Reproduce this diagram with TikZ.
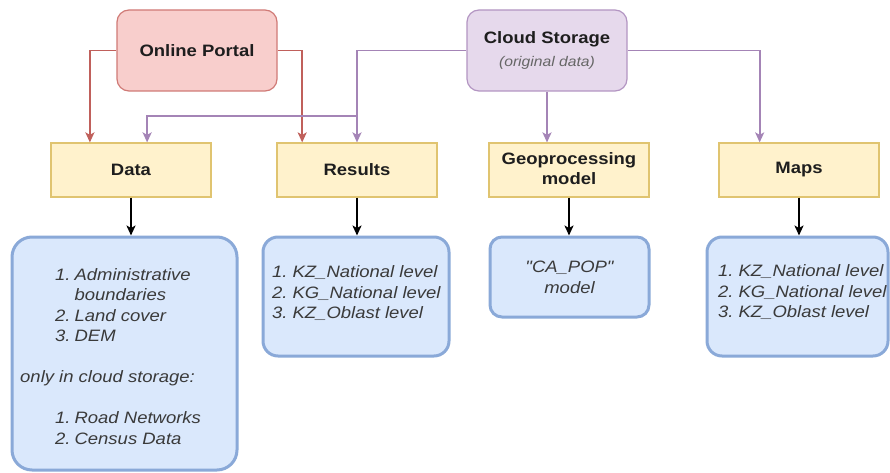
\documentclass[tikz,border=0pt]{standalone}
\usepackage{fontspec}
\usetikzlibrary{arrows.meta,calc}
\newfontfamily\lblfont[FakeStretch=1.12,Ligatures=TeXOff]{Liberation Sans}

\definecolor{portalfill}{HTML}{F8CECC}
\definecolor{portaledge}{HTML}{D07A76}
\definecolor{cloudfill}{HTML}{E6D9EC}
\definecolor{cloudedge}{HTML}{B395C2}
\definecolor{folderfill}{HTML}{FFF2CC}
\definecolor{folderedge}{HTML}{E0C470}
\definecolor{listfill}{HTML}{DAE8FC}
\definecolor{listedge}{HTML}{8AA9D8}
\definecolor{redline}{HTML}{C0605B}
\definecolor{purpleline}{HTML}{A484B6}
\definecolor{labelink}{HTML}{1E1E1E}
\definecolor{listink}{HTML}{3A3A3A}
\definecolor{noteink}{HTML}{666666}

\begin{document}
\begin{tikzpicture}[x=1pt,y=-1pt,
  box/.style={draw, line width=1.2pt, align=center, inner sep=0pt, text=labelink,
    font=\lblfont\bfseries\fontsize{16.5}{20}\selectfont},
  portalbox/.style={box, fill=portalfill, draw=portaledge, rounded corners=12pt,
    minimum width=160pt, minimum height=81pt},
  cloudbox/.style={box, fill=cloudfill, draw=cloudedge, rounded corners=12pt,
    minimum width=160pt, minimum height=81pt, font=\lblfont\bfseries\fontsize{16.5}{23}\selectfont},
  folderbox/.style={box, fill=folderfill, draw=folderedge, minimum width=160pt, minimum height=54pt},
  listbox/.style={draw=listedge, fill=listfill, line width=3pt, inner sep=0pt, align=center,
    text=listink, font=\lblfont\itshape\fontsize{16.5}{21}\selectfont},
  listtext/.style={inner sep=0pt, text=listink, font=\lblfont\itshape\fontsize{16.5}{20.5}\selectfont},
  tip/.style={-{Stealth[length=10pt,width=9pt,inset=2.5pt]}},
  redlink/.style={draw=redline, line width=1.8pt, tip},
  purplelink/.style={draw=purpleline, line width=1.8pt, tip},
  blacklink/.style={draw=black, line width=1.8pt, tip}
]
\useasboundingbox (0,0) rectangle (890,473);
\fill[white] (0,0) rectangle (890,473);

% sources
\node[portalbox] (portal) at (197,50.5) {Online Portal};
\node[cloudbox] (cloud) at (547,50.5)
  {Cloud Storage\\{\color{noteink}\fontsize{14}{16}\selectfont\mdseries\itshape (original data)}};

% folders
\node[folderbox] (data) at (131,170) {Data};
\node[folderbox] (results) at (357,170) {Results};
\node[folderbox] (geo) at (569,170) {\strut Geoprocessing\\\strut model};
\node[folderbox] (maps) at (799,170) {Maps};

% contents
\node[listbox, rounded corners=20pt, minimum width=225pt, minimum height=233pt] (datalist) at (124.5,353.5) {};
\node[listbox, rounded corners=15pt, minimum width=186pt, minimum height=119pt] (reslist) at (356,296.5) {};
\node[listbox, rounded corners=12pt, minimum width=159pt, minimum height=80pt] (capop) at (569.5,277) {"CA\_POP"\\model};
\node[listbox, rounded corners=15pt, minimum width=181pt, minimum height=119pt] (maplist) at (797.5,296.5) {};

\node[listtext, anchor=west] (datatext) at (20,358) {%
\begin{tabular}{@{\hspace{35pt}}r@{\hspace{4pt}}l@{}}
1. & Administrative\\
   & boundaries\\
2. & Land cover\\
3. & DEM\\
   & \\
\multicolumn{2}{@{}l@{}}{only in cloud storage:}\\
   & \\
1. & Road Networks\\
2. & Census Data
\end{tabular}};

\node[listtext, anchor=west] (restext) at (272,294) {%
\begin{tabular}{@{}r@{\hspace{5pt}}l@{}}
1. & KZ\_National level\\
2. & KG\_National level\\
3. & KZ\_Oblast level
\end{tabular}};

\node[listtext, anchor=west] (maptext) at (718,293) {%
\begin{tabular}{@{}r@{\hspace{5pt}}l@{}}
1. & KZ\_National level\\
2. & KG\_National level\\
3. & KZ\_Oblast level
\end{tabular}};

% portal links
\draw[redlink] (portal.west) -| ($(data.north west)!0.245!(data.north east)$);
\draw[redlink] (portal.east) -| ($(results.north west)!0.16!(results.north east)$);

% cloud links
\coordinate (split) at ($(results.north)+(0,-26)$);
\draw[purplelink] (cloud.west) -| (results.north);
\draw[purplelink] (split) -| ($(data.north west)!0.6!(data.north east)$);
\draw[purplelink] (cloud.south) -- (cloud.south |- geo.north);
\draw[purplelink] (cloud.east) -| ($(maps.north west)!0.256!(maps.north east)$);

% folder contents
\draw[blacklink] (data.south) -- (data.south |- datalist.north);
\draw[blacklink] (results.south) -- (results.south |- reslist.north);
\draw[blacklink] (geo.south) -- (geo.south |- capop.north);
\draw[blacklink] (maps.south) -- (maps.south |- maplist.north);
\end{tikzpicture}
\end{document}
